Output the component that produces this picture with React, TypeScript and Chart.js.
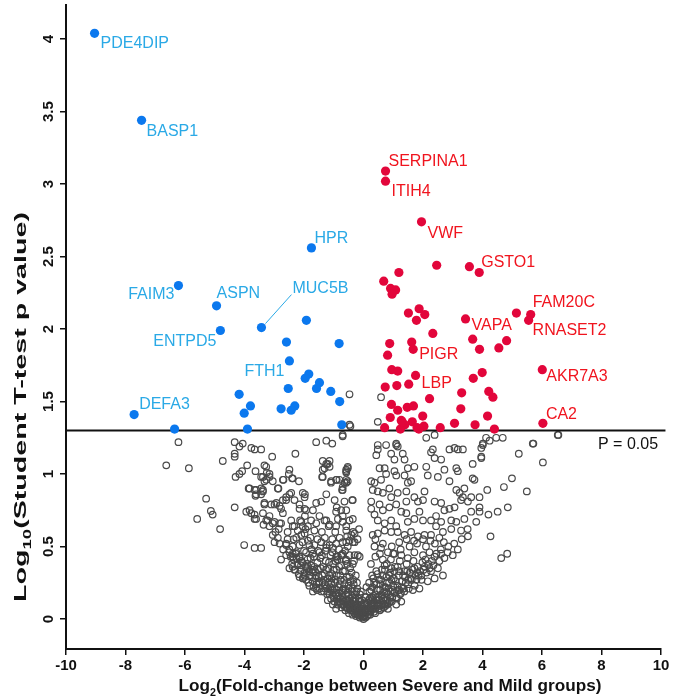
import React, { useEffect, useRef } from "react";
import { Chart, registerables } from "chart.js";

Chart.register(...registerables);

// ---------------- data ----------------
const X_TICKS = [-10, -8, -6, -4, -2, 0, 2, 4, 6, 8, 10];
const Y_TICKS = [0, 0.5, 1, 1.5, 2, 2.5, 3, 3.5, 4];
const P_CUTOFF = 1.301; // -log10(0.05)
const P_LABEL = "P = 0.05";

const X_TITLE: Array<[string, boolean]> = [["Log", false], ["2", true], ["(Fold-change between Severe and Mild groups)", false]];
const Y_TITLE: Array<[string, boolean]> = [["Log", false], ["10", true], ["(Student T-test p value)", false]];

// labelled, significantly lower in severe (blue)
const DOWN_NAMES = ["PDE4DIP", "BASP1", "FAIM3", "ASPN", "ENTPD5", "MUC5B", "HPR", "FTH1", "DEFA3"];
const DOWN_FC = [-9.04, -7.46, -6.22, -4.94, -4.81, -3.43, -1.75, -2.49, -7.71];
const DOWN_P = [4.04, 3.44, 2.3, 2.16, 1.99, 2.01, 2.56, 1.78, 1.41];

// other blue points
const DOWN_OTHER: number[][] = [
  [-1.92, 2.06], [-2.59, 1.91], [-0.82, 1.9], [-1.84, 1.69], [-1.96, 1.66], [-1.48, 1.63], [-1.58, 1.59],
  [-2.53, 1.59], [-1.1, 1.57], [-4.18, 1.55], [-0.8, 1.5], [-3.8, 1.47], [-2.31, 1.47], [-2.43, 1.44],
  [-2.77, 1.45], [-4.01, 1.42], [-6.35, 1.31], [-3.9, 1.31], [-0.73, 1.34],
];

// labelled, significantly higher in severe (red)
const UP_NAMES = ["SERPINA1", "ITIH4", "VWF", "GSTO1", "FAM20C", "RNASET2", "VAPA", "PIGR", "LBP", "AKR7A3", "CA2"];
const UP_FC = [0.74, 0.74, 1.95, 3.89, 5.62, 5.55, 3.43, 1.67, 1.75, 6.01, 6.03];
const UP_P = [3.09, 3.02, 2.74, 2.39, 2.1, 2.06, 2.07, 1.86, 1.68, 1.72, 1.35];

const UP_OTHER: number[][] = [
  [2.46, 2.44], [3.56, 2.43], [1.19, 2.39], [0.68, 2.33], [0.91, 2.28], [1.08, 2.27], [0.96, 2.24],
  [1.51, 2.11], [1.87, 2.14], [2.06, 2.1], [1.78, 2.06], [5.14, 2.11], [2.33, 1.97], [3.67, 1.93],
  [4.81, 1.92], [4.55, 1.87], [3.9, 1.86], [0.88, 1.9], [0.81, 1.82], [1.62, 1.91], [3.99, 1.7],
  [3.69, 1.66], [0.95, 1.72], [1.15, 1.71], [1.52, 1.62], [1.12, 1.61], [0.73, 1.6], [2.22, 1.52],
  [3.3, 1.56], [4.21, 1.57], [4.35, 1.53], [0.94, 1.48], [1.15, 1.44], [1.47, 1.46], [1.68, 1.47],
  [3.27, 1.45], [4.17, 1.4], [0.9, 1.39], [1.99, 1.4], [1.27, 1.37], [1.64, 1.36], [3.06, 1.35],
  [0.71, 1.32], [1.39, 1.34], [1.8, 1.32], [2.03, 1.33], [2.58, 1.32], [3.75, 1.34], [4.4, 1.31],
  [1.24, 1.31], [1.86, 1.31], [1.3, 1.36],
];

// not significant (grey open circles)
const NS_LEFT: number[][] = [
  [-6.22, 1.22], [-6.63, 1.06], [-5.87, 1.04], [-4.33, 1.22], [-4.06, 1.21], [-4.17, 1.19], [-4.33, 1.14],
  [-4.33, 1.12], [-4.73, 1.09], [-3.91, 1.06], [-4.08, 1.02], [-4.17, 1.0], [-4.3, 0.98], [-3.83, 0.9],
  [-5.29, 0.83], [-5.13, 0.745], [-5.07, 0.72], [-5.59, 0.69], [-4.33, 0.77], [-3.94, 0.74], [-3.83, 0.75],
  [-3.77, 0.73], [-4.82, 0.62], [-4.01, 0.51], [-3.66, 0.49], [-3.44, 0.49], [-3.77, 1.18], [-3.66, 1.17],
  [-3.44, 1.17], [-3.07, 1.12], [-2.29, 1.14], [-1.59, 1.22], [-1.25, 1.23], [-1.05, 1.21], [-0.7, 1.26],
  [-0.47, 1.34], [-0.47, 1.55], [-0.44, 1.33], [-3.63, 1.02], [-3.27, 1.05], [-3.25, 1.01], [-3.16, 1.0],
  [-3.44, 0.98], [-3.27, 0.96], [-3.05, 0.95], [-3.86, 0.9], [-3.61, 0.89], [-3.44, 0.9], [-3.63, 0.85],
  [-3.38, 0.88], [-2.86, 0.9], [-2.69, 0.96], [-2.49, 1.03], [-2.51, 1.0], [-2.38, 0.97], [-2.17, 0.95],
  [-1.97, 0.86], [-2.49, 0.86], [-2.6, 0.82], [-3.33, 0.79], [-3.1, 0.79], [-2.99, 0.79], [-2.82, 0.78],
  [-3.66, 0.69], [-3.36, 0.65], [-3.22, 0.68], [-3.05, 0.66], [-3.16, 0.71], [-2.82, 0.66], [-3.05, 0.58],
  [-2.88, 0.56], [-2.96, 0.6], [-2.77, 0.41], [-2.49, 0.35], [-2.38, 0.36], [-2.15, 0.79], [-1.98, 0.76],
  [-1.7, 0.75], [-1.97, 0.71], [-2.13, 0.68], [-1.48, 0.71], [-1.31, 0.68], [-2.38, 0.64], [-2.21, 0.61],
  [-1.98, 0.59], [-1.87, 0.64], [-1.65, 0.61], [-2.6, 0.52], [-2.38, 0.5], [-2.15, 0.51], [-2.38, 0.45],
  [-2.49, 0.46], [-2.15, 0.43], [-1.93, 0.46], [-1.7, 0.45], [-1.48, 0.46], [-1.87, 0.36], [-1.7, 0.34],
  [-1.98, 0.3], [-1.25, 0.51], [-1.03, 0.49], [-0.92, 0.43], [-0.75, 0.44], [-0.58, 0.41], [-1.25, 1.07],
  [-1.14, 1.05], [-1.37, 1.03], [-1.37, 0.98], [-1.09, 0.95], [-0.92, 0.96], [-0.58, 1.03], [-0.53, 0.95],
  [-0.64, 0.94], [-0.72, 0.89], [-0.38, 0.82], [-0.97, 0.82], [-0.92, 0.74], [-0.7, 0.71], [-1.25, 0.68],
  [-1.17, 0.64], [-0.36, 0.69], [-0.58, 0.61], [-0.41, 0.58], [-0.36, 0.53], [-0.53, 0.5], [-3.33, 1.06],
  [-3.38, 0.98], [-3.16, 0.98], [-3.33, 0.95], [-2.71, 0.96], [-2.4, 0.97], [-3.66, 0.89], [-3.61, 0.86],
  [-3.38, 0.89], [-3.44, 0.86], [-2.88, 0.9], [-3.33, 0.8], [-2.93, 0.8], [-2.71, 0.82], [-2.6, 0.84],
  [-2.43, 0.87], [-2.32, 0.82], [-2.04, 0.87], [-1.98, 0.84], [-2.77, 0.76], [-2.71, 0.73], [-2.15, 0.76],
  [-1.93, 0.75], [-1.59, 0.8], [-1.42, 0.81], [-1.25, 0.86], [-1.37, 1.09], [-1.31, 1.04], [-1.2, 1.07],
  [-1.14, 1.09], [-1.39, 0.98], [-1.09, 0.94], [-0.9, 0.96], [-0.7, 0.89], [-0.58, 0.94], [-0.53, 1.04],
  [-0.58, 1.01], [-0.9, 0.77], [-0.64, 0.81], [-0.36, 0.82], [-0.75, 0.75], [-0.58, 0.75], [-3.66, 0.72],
  [-3.61, 0.69], [-3.38, 0.73], [-3.27, 0.68], [-3.16, 0.64], [-2.99, 0.67], [-2.77, 0.66], [-2.43, 0.68],
  [-2.32, 0.64], [-2.09, 0.67], [-2.04, 0.64], [-1.76, 0.68], [-1.59, 0.66], [-1.14, 0.65], [-0.86, 0.69],
  [-0.7, 0.67], [-0.47, 0.68], [-0.92, 0.64], [-0.58, 0.64], [-2.99, 0.53], [-2.82, 0.52], [-2.6, 0.51],
  [-2.49, 0.48], [-2.6, 0.44], [-2.38, 0.43], [-2.26, 0.46], [-2.15, 0.42], [-2.32, 0.34], [-2.15, 0.29],
  [-2.04, 0.28], [-1.82, 0.23], [-1.7, 0.19], [-1.59, 0.21], [-1.2, 0.13], [-1.03, 0.1], [-0.92, 0.07],
  [-2.26, 0.56], [-2.09, 0.58], [-1.87, 0.54], [-1.82, 0.51], [-1.65, 0.51], [-1.42, 0.53], [-1.25, 0.49],
  [-1.14, 0.51], [-0.92, 0.52], [-0.7, 0.53], [-0.47, 0.54], [-0.3, 0.53], [-0.19, 0.44], [-0.47, 0.44],
  [-0.7, 0.45], [-0.86, 0.43], [-0.81, 0.96], [-0.58, 0.96], [-0.7, 0.91], [-0.3, 0.59], [-0.58, 0.53],
  [-0.3, 0.44], [-0.13, 0.43], [-0.36, 0.38], [-0.53, 1.05], [-0.58, 1.02],
  [-2.7, 0.48], [-2.55, 0.55], [-2.35, 0.55], [-2.05, 0.53], [-1.78, 0.56], [-1.55, 0.55], [-1.3, 0.56],
  [-1.05, 0.55], [-0.8, 0.56], [-0.55, 0.57], [-0.35, 0.6], [-0.2, 0.55], [-0.15, 0.62], [-2.85, 0.62],
  [-2.55, 0.6], [-1.95, 0.62], [-1.4, 0.6], [-0.95, 0.6],
];

const NS_RIGHT: number[][] = [
  [0.48, 1.2], [0.76, 1.2], [1.1, 1.21], [1.15, 1.19], [0.43, 1.13], [0.48, 1.17], [0.93, 1.14], [1.32, 1.14],
  [1.38, 1.1], [1.04, 1.1], [2.11, 1.25], [2.33, 1.17], [2.39, 1.11], [2.61, 1.1], [2.89, 1.17], [3.06, 1.18],
  [3.34, 1.17], [2.11, 1.05], [2.16, 0.99], [2.5, 0.98], [2.72, 1.03], [2.89, 0.95], [3.12, 1.04], [3.17, 1.02],
  [3.67, 1.07], [3.67, 0.97], [3.73, 0.96], [4.01, 1.21], [3.96, 1.18], [0.54, 1.04], [0.71, 1.04], [0.76, 1.0],
  [1.04, 1.02], [1.1, 0.99], [1.38, 0.99], [1.49, 1.04], [1.71, 1.05], [0.26, 0.95], [0.37, 0.94], [0.59, 0.96],
  [0.31, 0.89], [0.48, 0.88], [0.65, 0.87], [0.87, 0.9], [0.93, 0.84], [1.15, 0.87], [1.49, 0.94], [1.6, 0.95],
  [1.44, 0.88], [1.71, 0.84], [1.83, 0.81], [2.0, 0.82], [2.05, 0.88], [2.39, 0.81], [2.61, 0.8], [2.72, 0.75],
  [2.89, 0.76], [3.06, 0.77], [3.12, 0.89], [3.23, 0.87], [3.34, 0.84], [3.39, 0.9], [3.28, 0.82], [3.51, 0.81],
  [3.62, 0.84], [0.26, 0.81], [0.26, 0.76], [0.37, 0.72], [0.54, 0.79], [0.65, 0.75], [0.87, 0.77], [1.1, 0.79],
  [1.27, 0.74], [1.44, 0.81], [1.44, 0.73], [0.48, 0.68], [0.71, 0.66], [0.93, 0.68], [1.1, 0.64], [1.49, 0.67],
  [1.71, 0.69], [1.88, 0.74], [2.0, 0.68], [2.27, 0.68], [2.44, 0.71], [2.61, 0.67], [2.95, 0.68], [3.12, 0.67],
  [3.39, 0.69], [3.62, 0.74], [3.79, 0.67], [4.12, 1.25], [4.24, 1.23], [4.46, 1.25], [4.68, 1.25], [3.96, 1.11],
  [5.69, 1.21], [6.55, 1.27], [5.22, 1.14], [6.03, 1.08], [4.99, 0.97], [4.72, 0.91], [4.16, 0.89], [3.9, 0.84],
  [5.49, 0.88], [3.9, 0.77], [3.9, 0.74], [4.2, 0.72], [4.51, 0.74], [4.85, 0.77], [4.27, 0.57], [4.63, 0.42],
  [4.83, 0.45], [3.51, 0.57], [3.28, 0.61], [2.95, 0.62], [2.67, 0.6], [2.44, 0.64], [2.27, 0.58], [2.05, 0.58],
  [1.83, 0.57], [1.6, 0.6], [1.38, 0.58], [1.15, 0.6], [0.93, 0.6], [0.71, 0.61], [0.48, 0.59], [0.31, 0.58],
  [3.17, 0.48], [3.0, 0.44], [2.83, 0.46], [2.61, 0.45], [2.72, 0.42], [2.39, 0.43], [2.22, 0.46], [2.0, 0.44],
  [1.71, 0.46], [1.49, 0.42], [1.27, 0.44], [1.04, 0.45], [0.82, 0.46], [0.59, 0.49], [0.37, 0.5], [2.5, 0.35],
  [2.67, 0.3], [2.27, 0.33], [2.39, 0.28], [2.16, 0.26], [1.94, 0.3], [2.05, 0.36], [1.71, 0.35], [1.38, 0.33],
  [1.15, 0.36], [0.93, 0.35], [0.71, 0.37], [1.88, 0.21], [1.66, 0.2], [1.27, 0.12], [1.1, 0.1], [0.82, 0.07],
  [0.59, 1.53], [0.48, 1.36], [6.53, 1.27], [5.71, 1.21], [-0.7, 1.27], [1.1, 1.2], [2.39, 1.27], [2.27, 1.15],
  [3.17, 1.17], [3.96, 1.12], [4.01, 1.2],
  [2.45, 0.45], [2.55, 0.4], [2.6, 0.48], [2.85, 0.5], [3.05, 0.52], [3.3, 0.55], [3.5, 0.62], [0.95, 0.5],
  [1.2, 0.53], [1.45, 0.55], [1.7, 0.54], [2.0, 0.55], [2.25, 0.54], [2.55, 0.56], [0.65, 0.52], [0.4, 0.55],
];

// dense core around zero
const NS_CORE: number[][] = [
  [-2.35, 0.41], [-2.22, 0.37], [-2.12, 0.34], [-2.05, 0.39], [-1.98, 0.32], [-1.93, 0.27], [-1.88, 0.41],
  [-1.8, 0.3], [-1.76, 0.37], [-1.71, 0.26], [-1.66, 0.43], [-1.63, 0.33], [-1.58, 0.24], [-1.55, 0.39],
  [-1.5, 0.29], [-1.47, 0.21], [-1.44, 0.35], [-1.4, 0.44], [-1.37, 0.25], [-1.33, 0.19], [-1.31, 0.31],
  [-1.27, 0.4], [-1.24, 0.22], [-1.2, 0.28], [-1.18, 0.35], [-1.14, 0.17], [-1.11, 0.44], [-1.08, 0.25],
  [-1.05, 0.31], [-1.02, 0.38], [-0.99, 0.15], [-0.97, 0.21], [-0.94, 0.27], [-0.91, 0.34], [-0.88, 0.41],
  [-0.86, 0.12], [-0.83, 0.18], [-0.8, 0.24], [-0.78, 0.3], [-0.75, 0.37], [-0.72, 0.1], [-0.7, 0.15],
  [-0.67, 0.21], [-0.65, 0.27], [-0.62, 0.33], [-0.6, 0.4], [-0.57, 0.08], [-0.55, 0.13], [-0.52, 0.18],
  [-0.5, 0.23], [-0.48, 0.29], [-0.45, 0.35], [-0.43, 0.06], [-0.41, 0.11], [-0.38, 0.16], [-0.36, 0.21],
  [-0.34, 0.27], [-0.31, 0.04], [-0.29, 0.09], [-0.27, 0.14], [-0.24, 0.19], [-0.22, 0.25], [-0.19, 0.03],
  [-0.17, 0.07], [-0.15, 0.12], [-0.12, 0.17], [-0.1, 0.02], [-0.08, 0.05], [-0.06, 0.1], [-0.03, 0.01],
  [-0.02, 0.04], [0.0, 0.0], [-1.9, 0.35], [-1.62, 0.28], [-1.35, 0.36], [-1.15, 0.3], [-0.95, 0.4],
  [-0.73, 0.44], [-0.55, 0.38], [-0.4, 0.32], [-0.26, 0.3], [-2.28, 0.45], [-2.0, 0.47], [-1.75, 0.48],
  [-1.52, 0.47], [-1.28, 0.47], [-1.05, 0.46], [-0.82, 0.48], [-0.62, 0.47], [-0.32, 0.4],
  [-2.45, 0.43], [-2.4, 0.38], [-2.3, 0.34], [-2.25, 0.42], [-2.18, 0.31], [-2.1, 0.4], [-2.02, 0.29],
  [-1.95, 0.36], [-1.85, 0.25], [-1.83, 0.33], [-1.78, 0.42], [-1.73, 0.29], [-1.68, 0.22], [-1.65, 0.36],
  [-1.6, 0.3], [-1.56, 0.2], [-1.53, 0.34], [-1.48, 0.25], [-1.45, 0.42], [-1.42, 0.19], [-1.39, 0.3],
  [-1.34, 0.27], [-1.29, 0.21], [-1.26, 0.34], [-1.22, 0.17], [-1.19, 0.25], [-1.16, 0.39], [-1.12, 0.22],
  [-1.09, 0.14], [-1.07, 0.28], [-1.03, 0.2], [-1.0, 0.34], [-0.98, 0.12], [-0.96, 0.25], [-0.93, 0.18],
  [-0.9, 0.3], [-0.87, 0.1], [-0.85, 0.22], [-0.82, 0.36], [-0.79, 0.14], [-0.77, 0.27], [-0.74, 0.08],
  [-0.71, 0.2], [-0.69, 0.33], [-0.66, 0.12], [-0.64, 0.24], [-0.61, 0.06], [-0.59, 0.17], [-0.56, 0.29],
  [-0.54, 0.1], [-0.51, 0.21], [-0.49, 0.04], [-0.46, 0.14], [-0.44, 0.26], [-0.42, 0.08], [-0.39, 0.19],
  [-0.37, 0.03], [-0.35, 0.13], [-0.33, 0.24], [-0.3, 0.07], [-0.28, 0.17], [-0.25, 0.02], [-0.23, 0.1],
  [-0.21, 0.21], [-0.18, 0.05], [-0.16, 0.14], [-0.13, 0.01], [-0.11, 0.09], [-0.09, 0.19], [-0.07, 0.03],
  [-0.05, 0.13], [-0.04, 0.07], [-0.01, 0.02],
  [-0.95, 0.17], [-0.9, 0.14], [-0.85, 0.16], [-0.8, 0.12], [-0.76, 0.11], [-0.72, 0.13], [-0.68, 0.1],
  [-0.64, 0.09], [-0.6, 0.13], [-0.56, 0.11], [-0.53, 0.07], [-0.5, 0.1], [-0.47, 0.08], [-0.44, 0.1],
  [-0.4, 0.06], [-0.37, 0.09], [-0.33, 0.05], [-0.3, 0.1], [-0.26, 0.06], [-0.22, 0.04], [-0.2, 0.08],
  [-0.14, 0.05], [-0.09, 0.07], [-0.05, 0.04], [-1.1, 0.2], [-1.3, 0.24], [-1.5, 0.26], [-1.2, 0.19],
  [-0.6, 0.2], [-0.3, 0.12], [-1.7, 0.32], [-1.9, 0.38], [-2.1, 0.37], [-0.9, 0.2], [-0.7, 0.18], [-0.5, 0.16],
  [0.03, 0.02], [0.06, 0.05], [0.09, 0.1], [0.12, 0.02], [0.14, 0.07], [0.17, 0.13], [0.2, 0.19],
  [0.22, 0.03], [0.25, 0.09], [0.28, 0.15], [0.3, 0.22], [0.33, 0.28], [0.35, 0.05], [0.38, 0.11],
  [0.41, 0.17], [0.44, 0.24], [0.47, 0.31], [0.5, 0.07], [0.53, 0.13], [0.56, 0.2], [0.59, 0.27],
  [0.62, 0.34], [0.65, 0.41], [0.68, 0.08], [0.71, 0.15], [0.74, 0.22], [0.77, 0.29], [0.8, 0.1],
  [0.83, 0.17], [0.86, 0.25], [0.89, 0.32], [0.92, 0.41], [0.95, 0.12], [0.98, 0.2], [1.02, 0.28],
  [1.06, 0.36], [1.1, 0.15], [1.14, 0.23], [1.18, 0.3], [1.22, 0.4], [1.26, 0.18], [1.3, 0.26],
  [1.35, 0.21], [1.4, 0.29], [1.45, 0.38], [1.5, 0.24], [1.56, 0.32], [1.62, 0.27], [1.68, 0.4],
  [1.75, 0.3], [1.82, 0.36], [1.9, 0.33], [1.98, 0.39], [2.08, 0.41], [2.18, 0.38], [2.3, 0.4],
  [0.25, 0.38], [0.4, 0.43], [0.55, 0.45], [0.78, 0.38], [1.0, 0.45], [1.25, 0.48], [1.55, 0.5],
  [1.8, 0.52], [2.1, 0.5], [2.4, 0.52], [2.7, 0.53], [0.1, 0.22], [0.05, 0.15],
  [0.02, 0.06], [0.04, 0.1], [0.07, 0.01], [0.08, 0.15], [0.11, 0.05], [0.13, 0.11], [0.16, 0.03],
  [0.18, 0.09], [0.19, 0.25], [0.21, 0.14], [0.24, 0.05], [0.26, 0.2], [0.27, 0.11], [0.29, 0.3],
  [0.32, 0.07], [0.34, 0.16], [0.36, 0.25], [0.39, 0.04], [0.42, 0.13], [0.43, 0.33], [0.45, 0.2],
  [0.48, 0.09], [0.51, 0.15], [0.52, 0.27], [0.55, 0.06], [0.57, 0.24], [0.6, 0.1], [0.61, 0.17],
  [0.64, 0.3], [0.66, 0.14], [0.69, 0.22], [0.72, 0.34], [0.73, 0.09], [0.76, 0.18], [0.79, 0.25],
  [0.81, 0.13], [0.84, 0.21], [0.87, 0.3], [0.88, 0.12], [0.91, 0.19], [0.94, 0.27], [0.97, 0.15],
  [1.0, 0.23], [1.03, 0.33], [1.05, 0.18], [1.08, 0.26], [1.12, 0.14], [1.16, 0.2], [1.2, 0.33],
  [1.23, 0.17], [1.28, 0.22], [1.33, 0.3], [1.37, 0.19], [1.42, 0.25], [1.47, 0.33], [1.52, 0.21],
  [1.58, 0.28], [1.65, 0.34], [1.72, 0.23], [1.78, 0.27], [1.85, 0.3], [1.95, 0.27], [2.02, 0.34],
  [2.12, 0.32], [2.22, 0.35], [2.35, 0.37],
  [0.05, 0.04], [0.1, 0.07], [0.15, 0.05], [0.2, 0.08], [0.25, 0.06], [0.3, 0.1], [0.35, 0.09],
  [0.4, 0.07], [0.45, 0.11], [0.5, 0.1], [0.55, 0.09], [0.6, 0.07], [0.65, 0.11], [0.7, 0.1],
  [0.75, 0.13], [0.85, 0.11], [0.3, 0.13], [0.6, 0.16], [0.9, 0.15], [1.2, 0.2], [1.5, 0.27],
  [1.8, 0.32], [0.45, 0.15], [0.7, 0.19],
];

// ---------------- styling / layout (not data) ----------------
const BLUE_POINT = "#0b78ee";
const BLUE_TEXT = "#2aa9e6";
const RED_POINT = "#e2063b";
const RED_TEXT = "#f0141e";
const GREY = "#4a4a4a";
const FONT = "'Liberation Sans', Arial, sans-serif";

// label placement relative to the point (pixels): [dx, dy, align]
const LABEL_LAYOUT: Record<string, [number, number, CanvasTextAlign]> = {
  PDE4DIP: [6, 10, "left"],
  BASP1: [5, 11, "left"],
  FAIM3: [-4, 9, "right"],
  ASPN: [0, -12, "left"],
  ENTPD5: [-4, 11, "right"],
  MUC5B: [31, -39, "left"],
  HPR: [3, -9, "left"],
  FTH1: [-5, 11, "right"],
  DEFA3: [5, -10, "left"],
  SERPINA1: [3, -9, "left"],
  ITIH4: [6, 10, "left"],
  VWF: [6, 12, "left"],
  GSTO1: [2, -10, "left"],
  FAM20C: [2, -12, "left"],
  RNASET2: [4, 10, "left"],
  VAPA: [6, 7, "left"],
  PIGR: [6, 5, "left"],
  LBP: [6, 8, "left"],
  AKR7A3: [4, 7, "left"],
  CA2: [3, -9, "left"],
};

function toPts(arr: number[][]) {
  return arr.map((p) => ({ x: p[0], y: p[1] }));
}

function richWidth(ctx: CanvasRenderingContext2D, parts: Array<[string, boolean]>, size: number, sub: number) {
  let w = 0;
  for (const [t, s] of parts) {
    ctx.font = `bold ${s ? sub : size}px ${FONT}`;
    w += ctx.measureText(t).width;
  }
  return w;
}

function drawRich(ctx: CanvasRenderingContext2D, parts: Array<[string, boolean]>, size: number, sub: number, drop: number) {
  const total = richWidth(ctx, parts, size, sub);
  let cx = -total / 2;
  ctx.textAlign = "left";
  ctx.textBaseline = "alphabetic";
  for (const [t, s] of parts) {
    ctx.font = `bold ${s ? sub : size}px ${FONT}`;
    ctx.fillText(t, cx, s ? drop : 0);
    cx += ctx.measureText(t).width;
  }
}

const overlayPlugin = {
  id: "overlay",
  afterDraw(chart: any) {
    const { ctx } = chart;
    const xs = chart.scales.x;
    const ys = chart.scales.y;
    ctx.save();
    ctx.fillStyle = "#111";

    // tick labels
    ctx.font = `bold 15px ${FONT}`;
    ctx.textAlign = "center";
    ctx.textBaseline = "alphabetic";
    X_TICKS.forEach((v) => ctx.fillText(String(v), xs.getPixelForValue(v), ys.bottom + 21));
    Y_TICKS.forEach((v) => {
      ctx.save();
      ctx.translate(xs.left - 13, ys.getPixelForValue(v));
      ctx.rotate(-Math.PI / 2);
      ctx.textAlign = "center";
      ctx.fillText(String(v), 0, 0);
      ctx.restore();
    });

    // x title (fitted to the reference width)
    {
      const w = richWidth(ctx, X_TITLE, 16, 10);
      const s = 423 / w;
      ctx.save();
      ctx.translate(390, 691);
      ctx.scale(s, 1);
      drawRich(ctx, X_TITLE, 16, 10, 5);
      ctx.restore();
    }
    // y title
    {
      const w = richWidth(ctx, Y_TITLE, 17, 11);
      const s = 390 / w;
      ctx.save();
      ctx.translate(26, 407);
      ctx.rotate(-Math.PI / 2);
      ctx.scale(s, 1);
      drawRich(ctx, Y_TITLE, 17, 11, 5);
      ctx.restore();
    }

    // P = 0.05 label
    ctx.font = `16px ${FONT}`;
    ctx.textAlign = "left";
    ctx.textBaseline = "middle";
    ctx.fillStyle = "#111";
    ctx.fillText(P_LABEL, 598, ys.getPixelForValue(P_CUTOFF) + 14);

    // gene labels
    const drawLabels = (names: string[], fx: number[], py: number[], color: string) => {
      ctx.fillStyle = color;
      ctx.strokeStyle = color;
      names.forEach((n, i) => {
        const px = xs.getPixelForValue(fx[i]);
        const pyy = ys.getPixelForValue(py[i]);
        const [dx, dy, al] = LABEL_LAYOUT[n] || [5, 0, "left"];
        if (n === "MUC5B") {
          ctx.lineWidth = 1;
          ctx.beginPath();
          ctx.moveTo(px + 4, pyy - 4);
          ctx.lineTo(px + dx - 1, pyy + dy + 6);
          ctx.stroke();
        }
        ctx.font = `16px ${FONT}`;
        ctx.textAlign = al;
        ctx.textBaseline = "middle";
        ctx.fillText(n, px + dx, pyy + dy);
      });
    };
    drawLabels(DOWN_NAMES, DOWN_FC, DOWN_P, BLUE_TEXT);
    drawLabels(UP_NAMES, UP_FC, UP_P, RED_TEXT);
    ctx.restore();
  },
};

export default function App() {
  const ref = useRef<HTMLCanvasElement | null>(null);
  useEffect(() => {
    if (!ref.current) return;
    const downAll = [
      ...DOWN_NAMES.map((_, i) => ({ x: DOWN_FC[i], y: DOWN_P[i] })),
      ...toPts(DOWN_OTHER),
    ];
    const upAll = [...UP_NAMES.map((_, i) => ({ x: UP_FC[i], y: UP_P[i] })), ...toPts(UP_OTHER)];
    const nsAll = [...toPts(NS_CORE), ...toPts(NS_LEFT), ...toPts(NS_RIGHT)];
    const chart = new Chart(ref.current, {
      type: "scatter",
      data: {
        datasets: [
          { data: upAll, pointRadius: 4.6, pointBackgroundColor: RED_POINT, pointBorderWidth: 0, borderColor: RED_POINT } as any,
          { data: downAll, pointRadius: 4.6, pointBackgroundColor: BLUE_POINT, pointBorderWidth: 0, borderColor: BLUE_POINT } as any,
          {
            data: [{ x: -10, y: P_CUTOFF }, { x: 10.15, y: P_CUTOFF }],
            showLine: true, pointRadius: 0, borderColor: "#111", borderWidth: 2, clip: false,
          } as any,
          {
            data: nsAll, pointRadius: 3.3, pointBackgroundColor: "rgba(0,0,0,0)",
            pointBorderColor: GREY, pointBorderWidth: 1.2, borderColor: GREY,
          } as any,
        ],
      },
      options: {
        responsive: true,
        maintainAspectRatio: false,
        animation: false,
        layout: { padding: { left: 0, right: 12, top: 5, bottom: 0 } },
        plugins: { legend: { display: false }, tooltip: { enabled: false } },
        scales: {
          x: {
            type: "linear",
            min: -10,
            max: 10,
            afterBuildTicks: (s: any) => { s.ticks = X_TICKS.map((v) => ({ value: v })); },
            afterFit: (s: any) => { s.height = 49; },
            ticks: { display: false },
            grid: { drawOnChartArea: false, drawTicks: true, tickLength: 6, color: "#111", lineWidth: 1.5 },
            border: { display: true, color: "#111", width: 2 },
          },
          y: {
            type: "linear",
            min: -0.207,
            max: 4.234,
            afterBuildTicks: (s: any) => { s.ticks = Y_TICKS.map((v) => ({ value: v })); },
            afterFit: (s: any) => { s.width = 66; },
            ticks: { display: false },
            grid: { drawOnChartArea: false, drawTicks: true, tickLength: 6, color: "#111", lineWidth: 1.5 },
            border: { display: true, color: "#111", width: 2 },
          },
        },
      } as any,
      plugins: [overlayPlugin],
    });
    return () => chart.destroy();
  }, []);
  return (
    <div style={{ position: "fixed", left: 0, top: 0, width: 673, height: 698, background: "#fff" }}>
      <canvas ref={ref} />
    </div>
  );
}
